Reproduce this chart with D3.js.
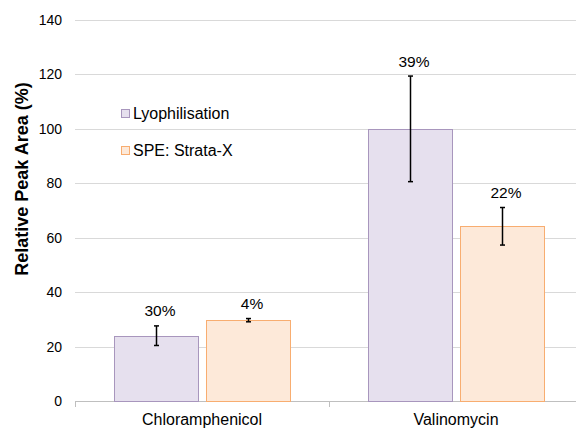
<!DOCTYPE html>
<html>
<head>
<meta charset="utf-8">
<script src="https://cdn.jsdelivr.net/npm/d3@7"></script>
<style>
  body { margin: 0; background: #fff; }
  text { font-family: "Liberation Sans", Arial, sans-serif; }
</style>
</head>
<body>
<svg id="chart" width="576" height="428"></svg>
<script>
// data
let categories = ["Chloramphenicol", "Valinomycin"];
let seriesNames = ["Lyophilisation", "SPE: Strata-X"];
let lyoValues = [24.0, 100];
let lyoErrors = [3.6, 19.4];
let speValues = [29.7, 64.2];
let speErrors = [0.6, 6.9];
let cvLabels = [["30%", "39%"], ["4%", "22%"]];
let yTicks = [0, 20, 40, 60, 80, 100, 120, 140];

let fills = ["#e6e0ee", "#fde9d9"];
let strokes = ["#a896bd", "#f8ad70"];

let svg = d3.select("#chart");
let plotLeft = 75, plotTop = 20, plotRight = 583, plotBottom = 401;

let x = d3.scaleBand().domain(categories).range([plotLeft, plotRight]);
let sub = d3.scaleBand().domain([0, 1]).range([0, x.bandwidth()]).paddingInner(0.09).paddingOuter(0.42);
let y = d3.scaleLinear().domain([0, 140]).range([plotBottom, plotTop]);

// gridlines
svg.append("g").selectAll("line").data(yTicks.slice(1)).enter().append("line")
    .attr("x1", plotLeft).attr("x2", 576)
    .attr("y1", d => Math.round(y(d)) + 0.5).attr("y2", d => Math.round(y(d)) + 0.5)
    .attr("stroke", "#d9d9d9").attr("stroke-width", 1);

// y axis labels
let yAxis = svg.append("g").attr("transform", "translate(" + plotLeft + ",0)")
    .call(d3.axisLeft(y).tickValues(yTicks).tickSize(0).tickPadding(13));
yAxis.select(".domain").remove();
yAxis.selectAll("text").attr("font-size", 14).attr("fill", "#000")
    .attr("font-family", "Liberation Sans, Arial, sans-serif");

// x axis
let xAxis = svg.append("g").attr("transform", "translate(0," + (plotBottom + 0.5) + ")")
    .call(d3.axisBottom(x).tickSize(0).tickPadding(12));
xAxis.select(".domain").attr("stroke", "#bfbfbf").attr("d", "M" + plotLeft + ",0H576");
xAxis.selectAll("text").attr("font-size", 16).attr("fill", "#000")
    .attr("font-family", "Liberation Sans, Arial, sans-serif");
svg.append("g").selectAll("line").data([plotLeft, x(categories[1])]).enter().append("line")
    .attr("x1", d => Math.round(d) + 0.5).attr("x2", d => Math.round(d) + 0.5)
    .attr("y1", plotBottom).attr("y2", plotBottom + 6)
    .attr("stroke", "#bfbfbf");

let series = [
    { values: lyoValues, errors: lyoErrors },
    { values: speValues, errors: speErrors }
];

series.forEach((s, si) => {
    let rows = categories.map((c, i) => ({ cat: c, v: s.values[i], e: s.errors[i], lab: cvLabels[si][i] }));
    let g = svg.append("g");
    g.selectAll("rect").data(rows).enter().append("rect")
        .attr("x", d => Math.round(x(d.cat) + sub(si)) + 0.5)
        .attr("y", d => Math.round(y(d.v)) + 0.5)
        .attr("width", Math.round(sub.bandwidth()))
        .attr("height", d => Math.round(y(0) - y(d.v)))
        .attr("fill", fills[si]).attr("stroke", strokes[si]).attr("stroke-width", 1);
    let cx = d => Math.round(x(d.cat) + sub(si) + sub.bandwidth() / 2) + 0.5;
    g.selectAll("line.err").data(rows).enter().append("line").attr("class", "err")
        .attr("x1", cx).attr("x2", cx)
        .attr("y1", d => y(d.v + d.e)).attr("y2", d => y(d.v - d.e))
        .attr("stroke", "#000").attr("stroke-width", 1.5);
    [1, -1].forEach(sign => {
        g.selectAll("line.cap" + (sign > 0 ? "hi" : "lo")).data(rows).enter().append("line")
            .attr("class", "cap" + (sign > 0 ? "hi" : "lo"))
            .attr("x1", d => cx(d) - 2.5).attr("x2", d => cx(d) + 2.5)
            .attr("y1", d => y(d.v + sign * d.e)).attr("y2", d => y(d.v + sign * d.e))
            .attr("stroke", "#000").attr("stroke-width", 1.5);
    });
    g.selectAll("text").data(rows).enter().append("text")
        .attr("x", d => cx(d) + 3.5)
        .attr("y", d => y(d.v + d.e) - 9.5)
        .attr("text-anchor", "middle").attr("font-size", 15.5).attr("fill", "#000")
        .text(d => d.lab);
});

// legend
let legend = svg.append("g");
seriesNames.forEach((name, i) => {
    let ly = 114 + i * 37;
    legend.append("rect").attr("x", 121.5).attr("y", ly - 4.5).attr("width", 8).attr("height", 8)
        .attr("fill", fills[i]).attr("stroke", strokes[i]);
    legend.append("text").attr("x", 133).attr("y", ly + 4.5)
        .attr("font-size", 16).attr("fill", "#000").text(name);
});

// y title
svg.append("text")
    .attr("transform", "translate(28,179) rotate(-90)")
    .attr("text-anchor", "middle")
    .attr("font-size", 18).attr("font-weight", "bold").attr("fill", "#000")
    .text("Relative Peak Area (%)");
</script>
</body>
</html>
